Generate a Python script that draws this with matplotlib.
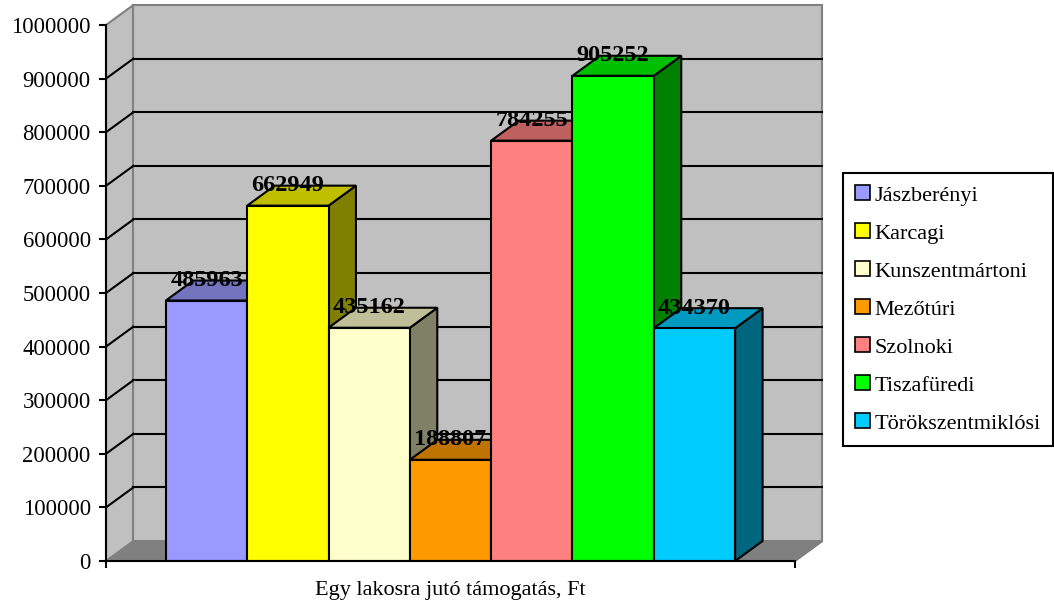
import numpy as np
import matplotlib.pyplot as plt
from matplotlib.patches import Polygon, Patch
from matplotlib.colors import to_rgb

plt.rcParams['font.family'] = ['Liberation Serif', 'DejaVu Serif']

# data
names = ['Jászberényi', 'Karcagi', 'Kunszentmártoni', 'Mezőtúri',
         'Szolnoki', 'Tiszafüredi', 'Törökszentmiklósi']
values = [485963, 662949, 435162, 188807, 784255, 905252, 434370]
front_colors = ['#9999FF', '#FFFF00', '#FFFFCC', '#FF9900',
                '#FF8080', '#00FF00', '#00CCFF']
yticks = np.arange(0, 1000001, 100000)
x_label = 'Egy lakosra jutó támogatás, Ft'


def shade(c, k):
    r, g, b = to_rgb(c)
    return (r * k, g * k, b * k)


W, H = 1054, 602
fig = plt.figure(figsize=(W / 100, H / 100), dpi=100)
ax = fig.add_axes([106 / W, 1 - 561 / H, 689 / W, 536 / H])

x0, x1 = -1.236, 7.236
ymax = 1000000
ax.set_xlim(x0, x1)
ax.set_ylim(0, ymax)

# depth offset of the fake 3d (in data units)
dx = 27.5 / 81.5
dy = 20 / 536 * ymax

wall_edge = '#808080'
# floor, left wall, back wall
ax.add_patch(Polygon([(x0, 0), (x1, 0), (x1 + dx, dy), (x0 + dx, dy)],
                     facecolor='#808080', edgecolor=wall_edge, lw=1.5,
                     clip_on=False, zorder=1))
ax.add_patch(Polygon([(x0, 0), (x0 + dx, dy), (x0 + dx, ymax + dy), (x0, ymax)],
                     facecolor='#C0C0C0', edgecolor=wall_edge, lw=1.5,
                     clip_on=False, zorder=1))
ax.add_patch(Polygon([(x0 + dx, dy), (x1 + dx, dy), (x1 + dx, ymax + dy), (x0 + dx, ymax + dy)],
                     facecolor='#C0C0C0', edgecolor=wall_edge, lw=1.5,
                     clip_on=False, zorder=1))

# gridlines on walls
for v in yticks[1:-1]:
    ax.plot([x0 + dx, x1 + dx], [v + dy, v + dy], color='black', lw=1.5,
            clip_on=False, zorder=2)
    ax.plot([x0, x0 + dx], [v, v + dy], color='black', lw=1.5,
            clip_on=False, zorder=2)

# bars: side, top, then front
for i, (v, c) in enumerate(zip(values, front_colors)):
    l, r = i - 0.5, i + 0.5
    z = 3 + i * 3
    ax.add_patch(Polygon([(r, 0), (r + dx, dy), (r + dx, v + dy), (r, v)],
                         facecolor=shade(c, 0.5), edgecolor='black', lw=1.5,
                         clip_on=False, zorder=z))
    ax.add_patch(Polygon([(l, v), (r, v), (r + dx, v + dy), (l + dx, v + dy)],
                         facecolor=shade(c, 0.75), edgecolor='black', lw=1.5,
                         clip_on=False, zorder=z + 1))
    ax.bar(i, v, width=1, color=c, edgecolor='black', lw=1.5, zorder=z + 2)

for i, v in enumerate(values):
    ax.text(i, v + dy, str(v), ha='center', va='center', fontsize=17.5,
            fontweight='bold', zorder=40)

# axes
for s in ['top', 'right']:
    ax.spines[s].set_visible(False)
for s in ['left', 'bottom']:
    ax.spines[s].set_linewidth(1.5)
    ax.spines[s].set_zorder(30)
ax.set_yticks(yticks)
ax.set_yticklabels([str(t) for t in yticks])
ax.set_xticks([x0, x1])
ax.set_xticklabels(['', ''])
ax.tick_params(axis='y', length=5, width=1.5, pad=6, labelsize=16.3)
ax.tick_params(axis='x', length=5, width=1.5)
ax.set_xlabel(x_label, fontsize=16, labelpad=6)
ax.set_facecolor('none')

handles = [Patch(facecolor=c, edgecolor='black', lw=1.2) for c in front_colors]
leg = fig.legend(handles, names, loc='center left',
                 bbox_to_anchor=(843 / W, 1 - 309.5 / H),
                 fontsize=16, frameon=True, fancybox=False, framealpha=1,
                 edgecolor='black', handlelength=0.65, handleheight=0.65,
                 handletextpad=0.2, labelspacing=0.8, borderpad=0.55,
                 borderaxespad=0)
leg.get_frame().set_linewidth(1.5)

fig.savefig('out.png', dpi=100)
